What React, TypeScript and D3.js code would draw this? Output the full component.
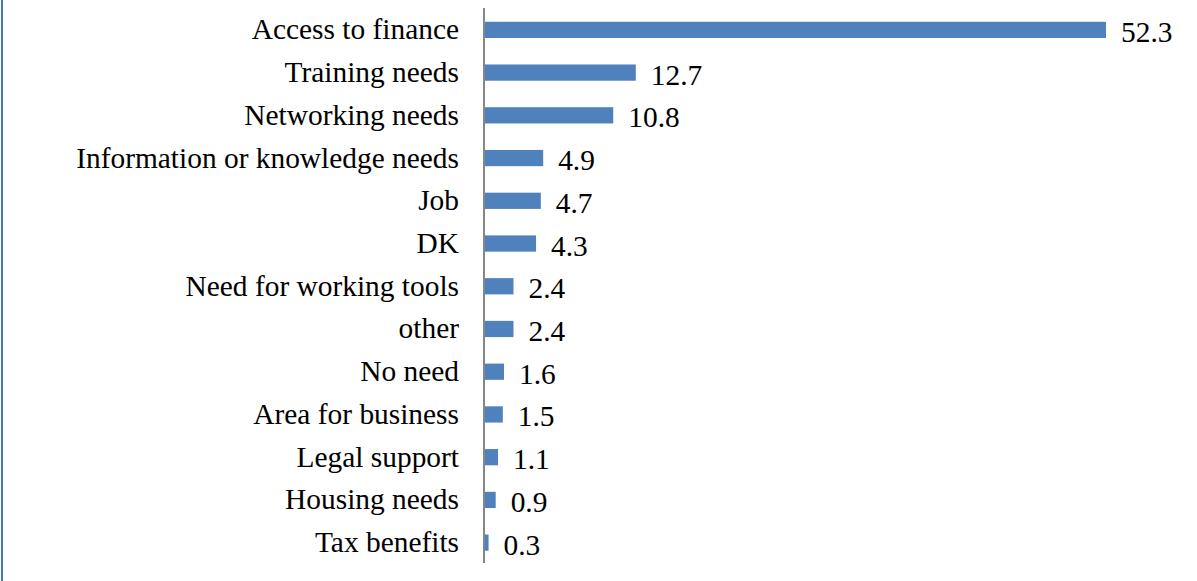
import React from "react";
import * as d3 from "d3";

const categories = [
  "Access to finance",
  "Training needs",
  "Networking needs",
  "Information or knowledge needs",
  "Job",
  "DK",
  "Need for working tools",
  "other",
  "No need",
  "Area for business",
  "Legal support",
  "Housing needs",
  "Tax benefits",
];
const values = [52.3, 12.7, 10.8, 4.9, 4.7, 4.3, 2.4, 2.4, 1.6, 1.5, 1.1, 0.9, 0.3];

const W = 1197;
const H = 581;

export default function App() {
  const x0 = 485;
  const x = d3.scaleLinear().domain([0, 52.3]).range([x0, 1106]);
  const y = d3
    .scaleBand<string>()
    .domain(categories)
    .range([8.5, 564])
    .paddingInner(0.62)
    .paddingOuter(0.31);
  const font = "'Liberation Serif', 'Times New Roman', serif";
  return (
    <svg
      width={W}
      height={H}
      style={{ position: "absolute", left: 0, top: 0, background: "#fff" }}
    >
      <rect x={1} y={0} width={2} height={H} fill="#4472C4" />
      {categories.map((c, i) => {
        const yy = y(c)!;
        const bw = y.bandwidth();
        return (
          <g key={c}>
            <rect
              x={x0}
              y={yy}
              width={x(values[i]) - x0}
              height={bw}
              fill="#4F81BD"
            />
            <text
              x={459}
              y={yy + bw / 2 + 9.5}
              textAnchor="end"
              fontFamily={font}
              fontSize={29.4}
              fill="#000"
            >
              {c}
            </text>
            <text
              x={x(values[i]) + 15}
              y={yy + bw / 2 + 12}
              textAnchor="start"
              fontFamily={font}
              fontSize={29.4}
              fill="#000"
            >
              {values[i].toFixed(1)}
            </text>
          </g>
        );
      })}
      <line x1={x0 - 1} x2={x0 - 1} y1={8} y2={563} stroke="#868686" strokeWidth={2} />
    </svg>
  );
}
